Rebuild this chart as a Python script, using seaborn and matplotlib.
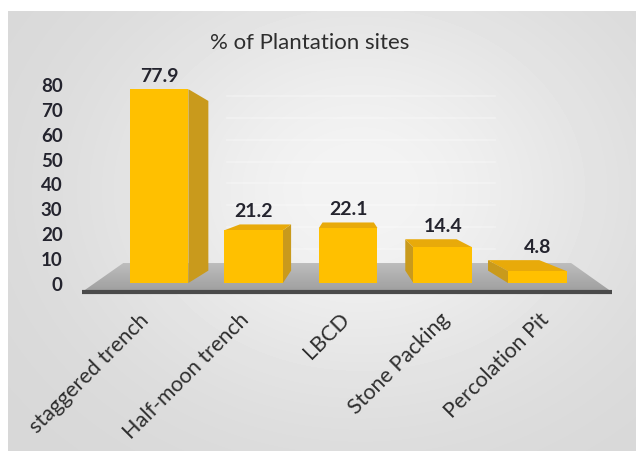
import numpy as np
import matplotlib
matplotlib.use("Agg")
import matplotlib.pyplot as plt
import seaborn as sns
from matplotlib.patches import Polygon

# Share of plantation sites by soil & water conservation structure
categories = ["staggered trench", "Half-moon trench", "LBCD", "Stone Packing", "Percolation Pit"]
percent_sites = [77.9, 21.2, 22.1, 14.4, 4.8]
value_labels = ["77.9", "21.2", "22.1", "14.4", "4.8"]
y_ticks = [0, 10, 20, 30, 40, 50, 60, 70, 80]
title_text = "% of Plantation sites"

plt.rcParams["font.family"] = ["Lato", "DejaVu Sans"]

FRONT = "#FFC000"
TOP = "#E8AA0A"
SIDE = "#C99A1C"
TEXT_DARK = "#24242e"
TEXT_CAT = "#2e2e2e"

W, H = 636, 452
fig = plt.figure(figsize=(W / 100, H / 100), dpi=100)
fig.patch.set_facecolor("white")

# soft grey backdrop, lighter toward the middle
bg = fig.add_axes([0, 0, 1, 1])
bg.set_xlim(0, W)
bg.set_ylim(H, 0)
bg.axis("off")
x0p, y0p = 8, 12
yy, xx = np.mgrid[y0p:H, x0p:W]
shade = 0.84 + 0.115 * np.exp(-(((xx - 360) / 260.0) ** 2 + ((yy - 190) / 210.0) ** 2))
bg.imshow(shade, cmap="gray", vmin=0, vmax=1, extent=(x0p, W, H, y0p),
          aspect="auto", interpolation="bilinear", zorder=0)

# plotting area, placed so that the floor edge sits on y = -3.6
xlim = (-0.815, 4.79)
ylim = (-3.6, 86)
ax = fig.add_axes([82 / W, (H - 293) / H, 530 / W, 223 / H])
ax.patch.set_alpha(0)

sns.barplot(x=categories, y=percent_sites, color=FRONT, saturation=1,
            width=0.62, linewidth=0, edgecolor="none", ax=ax, zorder=3)
bars = list(ax.patches)

ax.set_xlim(*xlim)
ax.set_ylim(*ylim)
for s in ax.spines.values():
    s.set_visible(False)

# floor of the 3-D box
vp_floor, k_floor = (2.0, 71.5), 0.845
def to_floor_back(p):
    return (vp_floor[0] + k_floor * (p[0] - vp_floor[0]),
            vp_floor[1] + k_floor * (p[1] - vp_floor[1]))
fl, fr = (xlim[0], ylim[0]), (xlim[1], ylim[0])
floor_pts = [fl, fr, to_floor_back(fr), to_floor_back(fl)]
floor = Polygon(floor_pts, closed=True, facecolor="none", edgecolor="none")
ax.add_patch(floor)
grad = np.linspace(0.62, 0.74, 64).reshape(-1, 1)
im = ax.imshow(grad, cmap="gray", vmin=0, vmax=1, origin="lower",
               extent=(xlim[0], xlim[1], ylim[0], to_floor_back(fl)[1]),
               aspect="auto", zorder=1)
im.set_clip_path(floor)
ax.set_xlim(*xlim)
ax.set_ylim(*ylim)
ax.plot([xlim[0], xlim[1]], [ylim[0], ylim[0]], color="#4a4a4a", lw=3,
        solid_capstyle="butt", zorder=2, clip_on=False)

# faint back-wall gridlines
vp, k = (2.0, 40.0), 0.875
def to_back(p):
    return (vp[0] + k * (p[0] - vp[0]), vp[1] + k * (p[1] - vp[1]))
for v in y_ticks[1:]:
    yb = to_back((0, v))[1]
    ax.plot([0.72, 3.55], [yb, yb], color="white", lw=1.2, alpha=0.3, zorder=0.5)

# depth faces for every bar
for bar, lab in zip(bars, value_labels):
    bx0 = bar.get_x()
    bx1 = bx0 + bar.get_width()
    h = bar.get_height()
    top_y = h
    if h < vp[1]:
        pts = [(bx0, h), (bx1, h), to_back((bx1, h)), to_back((bx0, h))]
        ax.add_patch(Polygon(pts, closed=True, facecolor=TOP, edgecolor="none", zorder=2.6))
        top_y = to_back((bx0, h))[1]
    if bx1 < vp[0]:
        pts = [(bx1, 0), (bx1, h), to_back((bx1, h)), to_back((bx1, 0))]
        ax.add_patch(Polygon(pts, closed=True, facecolor=SIDE, edgecolor="none", zorder=2.5))
    if bx0 > vp[0]:
        pts = [(bx0, 0), (bx0, h), to_back((bx0, h)), to_back((bx0, 0))]
        ax.add_patch(Polygon(pts, closed=True, facecolor=SIDE, edgecolor="none", zorder=2.5))
    ax.annotate(lab, xy=(bx0 + bar.get_width() / 2, top_y), xytext=(0, 4),
                textcoords="offset points", ha="center", va="bottom",
                fontsize=14, fontweight="bold", color=TEXT_DARK, zorder=5)

# axis labels
ax.set_yticks(y_ticks)
ax.set_yticklabels([str(t) for t in y_ticks], fontsize=13.5, fontweight="bold", color=TEXT_DARK)
tick_pos = [1.9 + 1.06 * (i - 2) for i in range(len(categories))]
ax.set_xticks(tick_pos)
ax.set_xticklabels(categories, rotation=45, ha="right", va="top",
                   rotation_mode="anchor", fontsize=15.5, color=TEXT_CAT)
ax.tick_params(axis="y", length=0, pad=14)
ax.tick_params(axis="x", length=0, pad=12)
ax.set_xlabel("")
ax.set_ylabel("")

fig.text(310 / W, 1 - 43 / H, title_text, ha="center", va="center",
         fontsize=16, color="#2e2e2e")

fig.savefig("out.png", dpi=100)
